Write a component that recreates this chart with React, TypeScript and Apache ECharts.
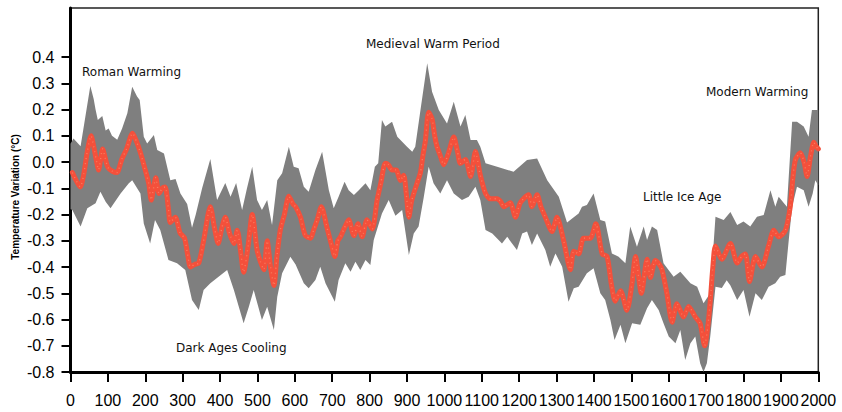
import React, { useEffect, useRef } from "react";
import * as echarts from "echarts";

// Reconstruction mean (year, °C)
const meanSeries: [number, number][] = [
  [5,-0.04],[15,-0.07],[26,-0.095],[35,-0.05],[45,0.04],[55,0.10],[62,0.06],[70,0.0],[75,-0.03],[86,0.05],[92,0.02],[100,-0.02],[112,-0.035],[124,-0.04],[137,0.01],[150,0.05],[166,0.11],[176,0.08],[186,0.04],[198,-0.02],[209,-0.08],[216,-0.145],[222,-0.1],[228,-0.06],[237,-0.12],[245,-0.1],[253,-0.095],[262,-0.18],[267,-0.23],[280,-0.21],[293,-0.27],[305,-0.29],[313,-0.35],[321,-0.40],[332,-0.39],[343,-0.385],[356,-0.30],[374,-0.17],[385,-0.25],[395,-0.31],[405,-0.25],[414,-0.21],[425,-0.27],[437,-0.31],[446,-0.26],[455,-0.34],[463,-0.42],[475,-0.32],[486,-0.20],[499,-0.335],[508,-0.38],[517,-0.41],[526,-0.30],[535,-0.40],[544,-0.47],[552,-0.36],[561,-0.26],[572,-0.20],[584,-0.13],[595,-0.16],[602,-0.17],[615,-0.21],[628,-0.28],[642,-0.29],[650,-0.26],[660,-0.22],[671,-0.17],[686,-0.25],[697,-0.31],[707,-0.36],[715,-0.30],[722,-0.285],[733,-0.25],[744,-0.22],[758,-0.28],[769,-0.235],[780,-0.285],[793,-0.22],[807,-0.255],[820,-0.145],[830,-0.08],[842,-0.005],[850,-0.01],[860,-0.03],[871,-0.03],[882,-0.07],[891,-0.05],[898,-0.12],[905,-0.21],[912,-0.15],[918,-0.12],[927,-0.08],[936,-0.04],[942,0.02],[949,0.08],[958,0.19],[967,0.165],[974,0.1],[980,0.06],[990,0.02],[998,-0.01],[1010,0.03],[1025,0.095],[1035,0.04],[1043,-0.005],[1056,0.01],[1070,-0.055],[1083,0.04],[1096,-0.05],[1110,-0.12],[1123,-0.14],[1141,-0.14],[1150,-0.15],[1159,-0.17],[1176,-0.155],[1190,-0.21],[1203,-0.155],[1225,-0.125],[1234,-0.17],[1248,-0.125],[1258,-0.17],[1270,-0.21],[1288,-0.265],[1301,-0.21],[1319,-0.30],[1337,-0.41],[1346,-0.34],[1359,-0.35],[1372,-0.29],[1390,-0.29],[1405,-0.235],[1422,-0.35],[1435,-0.36],[1447,-0.47],[1457,-0.53],[1471,-0.49],[1488,-0.565],[1502,-0.46],[1511,-0.36],[1527,-0.50],[1542,-0.37],[1551,-0.44],[1564,-0.375],[1575,-0.39],[1582,-0.41],[1595,-0.50],[1609,-0.61],[1622,-0.54],[1640,-0.59],[1653,-0.55],[1671,-0.59],[1684,-0.615],[1696,-0.70],[1705,-0.62],[1711,-0.53],[1718,-0.40],[1725,-0.32],[1742,-0.37],[1765,-0.31],[1783,-0.385],[1795,-0.36],[1805,-0.35],[1816,-0.455],[1832,-0.36],[1849,-0.40],[1867,-0.32],[1881,-0.26],[1894,-0.285],[1912,-0.26],[1925,-0.17],[1932,-0.06],[1939,0.01],[1952,0.035],[1962,0.0],[1970,-0.055],[1979,0.02],[1988,0.075],[1994,0.06],[2000,0.05]
];

// Upper uncertainty bound
const upperBound: [number, number][] = [
  [0,0.07],[8,0.09],[27,0.06],[53,0.29],[62,0.24],[67,0.2],[73,0.16],[85,0.175],[94,0.12],[102,0.128],[111,0.1],[125,0.085],[138,0.128],[152,0.186],[165,0.287],[178,0.25],[185,0.236],[196,0.096],[205,0.071],[223,0.103],[232,0.046],[250,0.033],[267,-0.069],[281,-0.065],[294,-0.12],[312,-0.16],[325,-0.25],[335,-0.2],[352,-0.1],[374,0.012],[392,-0.145],[414,-0.08],[428,-0.132],[443,-0.08],[459,-0.183],[472,-0.1],[486,-0.018],[499,-0.145],[512,-0.183],[526,-0.145],[539,-0.24],[553,-0.069],[566,-0.043],[584,0.058],[597,-0.018],[610,-0.024],[624,-0.094],[637,-0.113],[655,-0.03],[673,0.039],[691,-0.107],[704,-0.176],[717,-0.132],[733,-0.075],[744,-0.107],[758,-0.126],[771,-0.107],[789,-0.081],[802,-0.107],[814,-0.018],[823,-0.005],[833,0.16],[842,0.135],[860,0.154],[874,0.096],[900,0.058],[914,0.039],[922,0.058],[936,0.198],[954,0.376],[967,0.268],[985,0.198],[1007,0.147],[1025,0.23],[1043,0.135],[1056,0.179],[1070,0.084],[1087,0.084],[1096,0.058],[1110,-0.005],[1141,-0.018],[1185,-0.037],[1221,0.008],[1248,0.014],[1275,-0.069],[1306,-0.132],[1328,-0.23],[1346,-0.21],[1359,-0.196],[1368,-0.17],[1381,-0.164],[1399,-0.12],[1417,-0.221],[1430,-0.227],[1448,-0.348],[1466,-0.361],[1484,-0.386],[1497,-0.246],[1515,-0.323],[1533,-0.246],[1542,-0.297],[1555,-0.246],[1569,-0.259],[1586,-0.386],[1613,-0.437],[1631,-0.418],[1658,-0.462],[1676,-0.475],[1693,-0.538],[1711,-0.5],[1725,-0.208],[1747,-0.221],[1765,-0.19],[1783,-0.24],[1800,-0.227],[1818,-0.246],[1836,-0.208],[1854,-0.202],[1872,-0.107],[1885,-0.17],[1894,-0.132],[1916,-0.17],[1930,0.154],[1943,0.154],[1961,0.135],[1974,0.096],[1983,0.198],[2000,0.198]
];

// Lower uncertainty bound
const lowerBound: [number, number][] = [
  [0,-0.18],[5,-0.183],[27,-0.246],[45,-0.176],[67,-0.157],[80,-0.113],[94,-0.151],[107,-0.176],[134,-0.12],[156,-0.081],[165,-0.069],[187,-0.12],[196,-0.234],[213,-0.31],[226,-0.221],[240,-0.259],[262,-0.373],[285,-0.386],[307,-0.411],[325,-0.526],[343,-0.564],[356,-0.488],[374,-0.462],[396,-0.437],[419,-0.411],[437,-0.488],[463,-0.614],[477,-0.551],[490,-0.488],[512,-0.602],[526,-0.551],[544,-0.64],[553,-0.513],[566,-0.424],[588,-0.361],[602,-0.39],[624,-0.462],[637,-0.481],[655,-0.449],[668,-0.399],[682,-0.462],[707,-0.532],[717,-0.449],[735,-0.386],[749,-0.418],[762,-0.38],[775,-0.411],[789,-0.373],[802,-0.392],[811,-0.297],[833,-0.196],[851,-0.145],[869,-0.205],[887,-0.183],[905,-0.354],[918,-0.272],[931,-0.246],[945,-0.132],[958,-0.018],[971,-0.081],[989,-0.12],[1007,-0.069],[1025,-0.12],[1047,-0.145],[1065,-0.132],[1083,-0.094],[1096,-0.145],[1110,-0.259],[1128,-0.272],[1145,-0.297],[1154,-0.31],[1168,-0.285],[1194,-0.335],[1208,-0.272],[1221,-0.265],[1234,-0.316],[1248,-0.272],[1270,-0.335],[1283,-0.399],[1297,-0.348],[1315,-0.399],[1332,-0.532],[1346,-0.481],[1359,-0.475],[1381,-0.424],[1399,-0.405],[1417,-0.5],[1430,-0.526],[1444,-0.602],[1455,-0.678],[1471,-0.62],[1484,-0.69],[1502,-0.614],[1524,-0.62],[1542,-0.557],[1555,-0.526],[1573,-0.564],[1586,-0.614],[1600,-0.665],[1618,-0.69],[1631,-0.64],[1644,-0.754],[1658,-0.69],[1671,-0.665],[1684,-0.767],[1693,-0.8],[1702,-0.767],[1711,-0.665],[1725,-0.475],[1742,-0.48],[1755,-0.45],[1765,-0.47],[1783,-0.526],[1800,-0.488],[1816,-0.589],[1832,-0.5],[1849,-0.526],[1867,-0.475],[1885,-0.462],[1898,-0.437],[1912,-0.43],[1921,-0.297],[1930,-0.17],[1943,-0.094],[1961,-0.107],[1974,-0.17],[1985,-0.12],[1992,-0.069],[2000,-0.088]
];

const yTickValues = [-0.8, -0.7, -0.6, -0.5, -0.4, -0.3, -0.2, -0.1, 0, 0.1, 0.2, 0.3, 0.4];

const annotations = [
  { text: "Roman Warming", x: 82, y: 72 },
  { text: "Dark Ages Cooling", x: 176, y: 348 },
  { text: "Medieval Warm Period", x: 366, y: 44 },
  { text: "Little Ice Age", x: 643, y: 197 },
  { text: "Modern Warming", x: 706, y: 92 },
];

const TICK_FONT = "'Liberation Sans', Arial, sans-serif";

export default function App() {
  const ref = useRef<HTMLDivElement>(null);
  useEffect(() => {
    if (!ref.current) return;
    const chart = echarts.init(ref.current, null, { renderer: "svg" });
    const option: any = {
      animation: false,
      backgroundColor: "#ffffff",
      grid: {
        left: 70.5,
        right: 23.7,
        top: 8,
        bottom: 40,
        show: true,
        borderColor: "#222",
        borderWidth: 1.5,
        backgroundColor: "transparent",
      },
      xAxis: {
        type: "value",
        min: 0,
        max: 2000,
        interval: 100,
        axisLine: { show: true, onZero: false, lineStyle: { color: "#000", width: 3 } },
        axisTick: { show: true, length: 10, lineStyle: { color: "#000", width: 2 } },
        axisLabel: {
          color: "#000",
          fontSize: 16,
          fontFamily: TICK_FONT,
          margin: 20,
          showMinLabel: true,
          showMaxLabel: true,
          hideOverlap: false,
          formatter: (v: number) => String(Math.round(v)),
        },
        splitLine: { show: false },
      },
      yAxis: {
        type: "value",
        min: -0.8,
        max: 0.587,
        axisLine: { show: true, onZero: false, lineStyle: { color: "#000", width: 3 } },
        axisTick: { show: true, length: 9, customValues: yTickValues, lineStyle: { color: "#000", width: 2 } },
        axisLabel: {
          color: "#000",
          fontSize: 16,
          fontFamily: TICK_FONT,
          margin: 16,
          customValues: yTickValues,
          formatter: (v: number) => (Math.abs(v) < 1e-9 ? "0.0" : v.toFixed(1)),
        },
        splitLine: { show: false },
      },
      graphic: [
        {
          type: "text",
          x: 15,
          y: 197,
          rotation: Math.PI / 2,
          style: {
            text: "Temperature Variation (°C)",
            font: "bold 10px 'Liberation Sans', Arial, sans-serif",
            fill: "#000",
            align: "center",
            verticalAlign: "middle",
          },
        },
        ...annotations.map((a) => ({
          type: "text",
          x: a.x,
          y: a.y,
          z: 10,
          style: {
            text: a.text,
            font: "12px 'DejaVu Sans', sans-serif",
            fill: "#111",
            align: "left",
            verticalAlign: "middle",
          },
        })),
      ],
      series: [
        {
          type: "custom",
          coordinateSystem: "cartesian2d",
          data: [[0, 0]],
          z: 1,
          silent: true,
          renderItem: (params: any, api: any) => {
            if (params.dataIndex !== 0) return null;
            const pts = upperBound
              .map((p) => api.coord(p))
              .concat(lowerBound.slice().reverse().map((p) => api.coord(p)));
            return {
              type: "polygon",
              shape: { points: pts },
              style: { fill: "#7f7f7f", stroke: "none" },
            };
          },
        },
        {
          type: "line",
          data: meanSeries,
          showSymbol: false,
          smooth: 0.25,
          z: 3,
          lineStyle: { color: "#f4503b", width: 5, cap: "round", join: "round" },
        },
        {
          type: "line",
          data: meanSeries,
          showSymbol: false,
          smooth: 0.25,
          z: 4,
          lineStyle: { color: "rgba(255,190,150,0.4)", width: 1.4, type: [1, 4] },
        },
      ],
    };
    chart.setOption(option);
    return () => chart.dispose();
  }, []);
  return (
    <div
      ref={ref}
      style={{ position: "absolute", left: 0, top: 0, width: 842, height: 412, background: "#fff" }}
    />
  );
}
